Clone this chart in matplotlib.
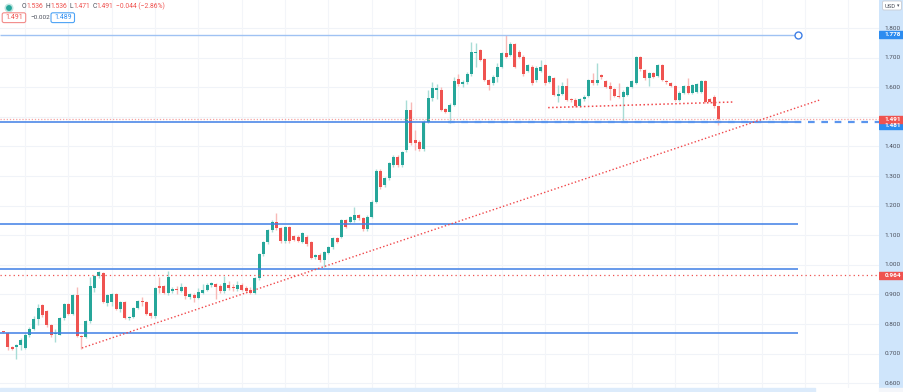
import matplotlib
matplotlib.use("Agg")
import matplotlib.pyplot as plt
from matplotlib.patches import Rectangle, Circle, FancyBboxPatch

# ---------------- data ----------------
opens = [0.775, 0.770, 0.722, 0.721, 0.730, 0.719, 0.762, 0.784, 0.818, 0.863,
         0.843, 0.798, 0.765, 0.764, 0.820, 0.869, 0.835, 0.897, 0.760, 0.756,
         0.809, 0.920, 0.962, 0.972, 0.872, 0.874, 0.901, 0.852, 0.874, 0.821,
         0.823, 0.854, 0.877, 0.874, 0.838, 0.826, 0.928, 0.928, 0.904, 0.913,
         0.916, 0.913, 0.924, 0.892, 0.898, 0.887, 0.906, 0.915, 0.932, 0.935,
         0.928, 0.913, 0.932, 0.926, 0.917, 0.931, 0.920, 0.915, 0.906, 0.954,
         1.036, 1.078, 1.118, 1.146, 1.123, 1.081, 1.127, 1.097, 1.095, 1.078,
         1.095, 1.078, 1.025, 1.033, 1.016, 1.041, 1.061, 1.089, 1.095, 1.151,
         1.146, 1.151, 1.168, 1.157, 1.120, 1.163, 1.213, 1.317, 1.270, 1.292,
         1.337, 1.365, 1.337, 1.388, 1.523, 1.422, 1.416, 1.390, 1.484, 1.562,
         1.591, 1.590, 1.526, 1.517, 1.540, 1.628, 1.610, 1.619, 1.643, 1.714,
         1.726, 1.695, 1.624, 1.613, 1.636, 1.669, 1.714, 1.709, 1.745, 1.720,
         1.703, 1.655, 1.669, 1.624, 1.655, 1.675, 1.619, 1.632, 1.571, 1.576,
         1.605, 1.560, 1.557, 1.538, 1.560, 1.570, 1.624, 1.613, 1.641, 1.621,
         1.604, 1.593, 1.570, 1.566, 1.574, 1.602, 1.615, 1.701, 1.658, 1.630,
         1.649, 1.638, 1.675, 1.620, 1.615, 1.604, 1.557, 1.580, 1.604, 1.580,
         1.585, 1.585, 1.622, 1.559, 1.568, 1.536]
highs = [0.778, 0.772, 0.727, 0.733, 0.752, 0.770, 0.790, 0.826, 0.866, 0.868,
         0.846, 0.800, 0.784, 0.824, 0.872, 0.872, 0.900, 0.925, 0.762, 0.812,
         0.960, 0.966, 0.978, 0.976, 0.900, 0.905, 0.905, 0.878, 0.878, 0.826,
         0.858, 0.882, 0.890, 0.877, 0.842, 0.925, 0.958, 0.932, 0.980, 0.925,
         0.930, 0.940, 0.930, 0.905, 0.905, 0.920, 0.935, 0.938, 0.942, 0.940,
         0.935, 0.962, 0.945, 0.935, 0.945, 0.940, 0.930, 0.925, 0.960, 1.040,
         1.082, 1.122, 1.151, 1.176, 1.128, 1.130, 1.130, 1.100, 1.100, 1.110,
         1.100, 1.082, 1.036, 1.040, 1.048, 1.065, 1.093, 1.095, 1.155, 1.156,
         1.165, 1.194, 1.172, 1.160, 1.168, 1.218, 1.322, 1.322, 1.298, 1.348,
         1.370, 1.370, 1.386, 1.557, 1.551, 1.455, 1.420, 1.489, 1.591, 1.619,
         1.610, 1.600, 1.530, 1.545, 1.636, 1.643, 1.625, 1.650, 1.754, 1.748,
         1.730, 1.698, 1.628, 1.640, 1.681, 1.720, 1.776, 1.752, 1.750, 1.725,
         1.708, 1.680, 1.674, 1.670, 1.692, 1.680, 1.642, 1.636, 1.607, 1.619,
         1.630, 1.565, 1.562, 1.565, 1.572, 1.628, 1.647, 1.683, 1.646, 1.625,
         1.619, 1.597, 1.613, 1.590, 1.604, 1.626, 1.705, 1.705, 1.662, 1.653,
         1.653, 1.680, 1.679, 1.624, 1.619, 1.608, 1.586, 1.608, 1.632, 1.611,
         1.614, 1.626, 1.626, 1.563, 1.572, 1.536]
lows = [0.770, 0.712, 0.712, 0.683, 0.712, 0.716, 0.756, 0.780, 0.796, 0.825,
        0.790, 0.755, 0.740, 0.762, 0.815, 0.830, 0.830, 0.755, 0.715, 0.752,
        0.805, 0.908, 0.955, 0.870, 0.860, 0.862, 0.848, 0.840, 0.818, 0.812,
        0.820, 0.850, 0.860, 0.830, 0.820, 0.820, 0.904, 0.900, 0.898, 0.905,
        0.900, 0.908, 0.885, 0.885, 0.875, 0.883, 0.900, 0.910, 0.925, 0.885,
        0.905, 0.905, 0.915, 0.912, 0.910, 0.910, 0.905, 0.900, 0.902, 0.950,
        1.030, 1.070, 1.110, 1.118, 1.075, 1.075, 1.075, 1.080, 1.078, 1.072,
        1.065, 1.018, 1.018, 1.010, 0.994, 1.035, 1.055, 1.072, 1.090, 1.125,
        1.140, 1.146, 1.150, 1.115, 1.115, 1.158, 1.208, 1.255, 1.262, 1.288,
        1.332, 1.332, 1.330, 1.382, 1.405, 1.388, 1.385, 1.385, 1.480, 1.555,
        1.560, 1.518, 1.512, 1.478, 1.535, 1.605, 1.600, 1.612, 1.638, 1.669,
        1.688, 1.620, 1.590, 1.608, 1.619, 1.665, 1.700, 1.705, 1.665, 1.698,
        1.638, 1.650, 1.608, 1.618, 1.650, 1.608, 1.614, 1.570, 1.551, 1.572,
        1.552, 1.550, 1.534, 1.534, 1.555, 1.566, 1.608, 1.608, 1.628, 1.598,
        1.557, 1.566, 1.562, 1.484, 1.570, 1.598, 1.610, 1.655, 1.625, 1.604,
        1.632, 1.634, 1.620, 1.612, 1.600, 1.553, 1.553, 1.576, 1.576, 1.576,
        1.581, 1.581, 1.547, 1.547, 1.530, 1.471]
closes = [0.772, 0.722, 0.716, 0.728, 0.745, 0.764, 0.784, 0.816, 0.854, 0.831,
          0.795, 0.762, 0.768, 0.820, 0.869, 0.835, 0.897, 0.760, 0.756, 0.809,
          0.928, 0.962, 0.976, 0.874, 0.897, 0.901, 0.852, 0.874, 0.821, 0.823,
          0.854, 0.878, 0.874, 0.833, 0.826, 0.921, 0.920, 0.904, 0.960, 0.918,
          0.914, 0.926, 0.895, 0.900, 0.889, 0.909, 0.915, 0.932, 0.937, 0.926,
          0.913, 0.937, 0.920, 0.920, 0.932, 0.915, 0.913, 0.906, 0.954, 1.036,
          1.078, 1.118, 1.146, 1.123, 1.081, 1.127, 1.081, 1.084, 1.082, 1.106,
          1.070, 1.022, 1.033, 1.016, 1.044, 1.061, 1.089, 1.078, 1.151, 1.129,
          1.160, 1.168, 1.157, 1.120, 1.163, 1.213, 1.317, 1.264, 1.292, 1.343,
          1.365, 1.337, 1.382, 1.523, 1.410, 1.413, 1.390, 1.484, 1.562, 1.596,
          1.596, 1.523, 1.517, 1.540, 1.621, 1.610, 1.619, 1.643, 1.718, 1.718,
          1.692, 1.624, 1.607, 1.636, 1.669, 1.714, 1.703, 1.745, 1.669, 1.703,
          1.643, 1.675, 1.613, 1.666, 1.669, 1.613, 1.638, 1.574, 1.576, 1.605,
          1.557, 1.557, 1.538, 1.560, 1.568, 1.624, 1.613, 1.624, 1.633, 1.602,
          1.593, 1.570, 1.566, 1.585, 1.600, 1.622, 1.701, 1.660, 1.630, 1.649,
          1.636, 1.675, 1.624, 1.617, 1.604, 1.557, 1.582, 1.604, 1.580, 1.607,
          1.610, 1.622, 1.551, 1.551, 1.535, 1.491]

price_ticks = [0.6, 0.7, 0.8, 0.9, 1.0, 1.1, 1.2, 1.3, 1.4, 1.5, 1.6, 1.7, 1.8]
blue_levels = [1.481, 1.137, 0.985, 0.770]
top_level = 1.778
support_level = 1.481
red_price_line = 1.491
red_level = 0.964
trend_x = [18.1, 188.4]
trend_y = [0.719, 1.557]
neck_x = [125.7, 168.4]
neck_y = [1.531, 1.550]
ray_end = 183.4
dash_start = 102.6
header_parts = [("O", "1.536"), ("H", "1.536"), ("L", "1.471"), ("C", "1.491"),
                ("", "\u22120.044 (\u22122.86%)")]

UP = "#26a69a"
DOWN = "#ef5350"
UP_W = "#a8dcd6"
DOWN_W = "#f8b9b7"
BLUE = "#3f7fe6"
GREY = "#4a4e5a"

W, H = 904, 392
fig = plt.figure(figsize=(W / 100, H / 100), dpi=100)
fig.patch.set_facecolor("white")

plot_right = 879
plot_bottom = 388
ax = fig.add_axes([0, 1 - plot_bottom / H, plot_right / W, plot_bottom / H])
ax.set_facecolor("white")

x0, dx = 3.5, 4.333
ax.set_xlim((0 - x0) / dx, (plot_right - x0) / dx)
ax.set_ylim(1.8 - (plot_bottom - 28) / 296, 1.8 + 28 / 296)
for s in ax.spines.values():
    s.set_visible(False)
ax.set_xticks([])
ax.set_yticks([])

# grid
for p in price_ticks:
    ax.axhline(p, color="#f0f3f8", lw=0.8, zorder=0)
for gi in range(5, 205, 10):
    ax.axvline(gi, color="#f3f5f9", lw=0.8, zorder=0)

n = len(closes)
for i in range(n):
    o, h, l, c = opens[i], highs[i], lows[i], closes[i]
    up = c >= o
    ax.vlines(i, l, h, color=UP_W if up else DOWN_W, lw=1.0, zorder=2)
    bot = min(o, c)
    ht = max(abs(c - o), 0.003)
    ax.bar(i, ht, bottom=bot, width=0.72, color=UP if up else DOWN,
           edgecolor="none", zorder=3)

# horizontal levels
xl = ax.get_xlim()
ax.hlines(top_level, xl[0], ray_end, color="#9fc2f3", lw=1.0, zorder=4)
ax.plot([ray_end], [top_level], marker="o", ms=5, mfc="white", mec=BLUE, mew=1.0, zorder=6)
for lv in blue_levels:
    ax.hlines(lv, xl[0], ray_end, color=BLUE, lw=1.1, zorder=4)
ax.hlines(support_level, dash_start, xl[1], color="#5a95ee", lw=1.6,
          linestyles=(0, (3, 3)), zorder=5)
ax.axhline(red_price_line, color="#f5a3a1", lw=0.9, ls=(0, (1, 1.5)), zorder=4)
ax.axhline(red_level, color="#ef5350", lw=0.9, ls=(0, (1, 2.5)), zorder=4)
ax.plot(trend_x, trend_y, color="#f0474a", lw=1.0, ls=(0, (1, 1.6)), zorder=5)
ax.plot(neck_x, neck_y, color="#f0474a", lw=1.1, ls=(0, (1, 1.6)), zorder=5)

# price scale panel
pax = fig.add_axes([plot_right / W, 1 - plot_bottom / H, (W - plot_right) / W, plot_bottom / H])
pax.set_facecolor("#cfe5fb")
pax.set_xlim(0, 1)
pax.set_ylim(ax.get_ylim())
for s in pax.spines.values():
    s.set_visible(False)
pax.set_xticks([])
pax.set_yticks([])
tag_levels = [top_level, 1.4705, red_price_line, red_level]
for p in price_ticks:
    # labels hidden behind the coloured price tags are not drawn (as in the reference)
    if any(abs(p - t) < 0.02 for t in tag_levels):
        continue
    pax.text(0.22, p, f"{p:.3f}", fontsize=4.6, color=GREY, va="center",
             ha="left", family="Roboto")

def tag(y, text, color):
    pax.add_patch(Rectangle((0.0, y - 0.0112), 1.0, 0.0224, color=color, zorder=5))
    pax.text(0.22, y, text, fontsize=4.6, color="white", va="center", ha="left",
             family="Roboto", zorder=6, fontweight="bold")

tag(top_level, "1.778", "#2c8cf0")
tag(1.4705, "1.481", "#2c8cf0")
tag(red_price_line, "1.491", "#ef5350")
tag(red_level, "0.964", "#ef5350")

# overlay in pixel coordinates for the header and extras
ov = fig.add_axes([0, 0, 1, 1])
ov.set_xlim(0, W)
ov.set_ylim(H, 0)
ov.axis("off")
ov.patch.set_alpha(0)

ov.add_patch(Rectangle((0, plot_bottom), 815, H - plot_bottom, color="#dcebfb", zorder=1))
ov.add_patch(Rectangle((plot_right, plot_bottom), W - plot_right, H - plot_bottom,
                       color="#f4f6fa", zorder=1))

# USD button
ov.add_patch(FancyBboxPatch((882.5, 1.0), 19, 9, boxstyle="round,pad=0,rounding_size=1.5",
                            fc="white", ec="#c9ccd3", lw=0.6, zorder=3))
ov.text(884.5, 6, "USD", fontsize=4.2, color=GREY, va="center", ha="left",
        family="Roboto", zorder=4)
ov.text(898.5, 6, "\u25be", fontsize=3.5, color=GREY, va="center", ha="center", zorder=4)

# legend dot
ov.add_patch(Circle((9, 8), 3.8, color="#bfe6e1", zorder=3))
ov.add_patch(Circle((9, 8), 2.2, color="#26a69a", zorder=4))

# header: laid out piece by piece using measured text widths
renderer = fig.canvas.get_renderer()
xcur = 22.0
for letter, val in header_parts:
    for txt, col in ((letter, GREY), (val, DOWN)):
        if not txt:
            continue
        t = ov.text(xcur, 6.2, txt, fontsize=4.85, color=col, va="center", ha="left",
                    family="Roboto")
        bb = t.get_window_extent(renderer=renderer)
        xcur += bb.width
    xcur += 2.4

ov.add_patch(FancyBboxPatch((2.2, 12.8), 23.5, 9.8, boxstyle="round,pad=0,rounding_size=1.8",
                            fc="white", ec="#f28b89", lw=0.8, zorder=3))
ov.text(14, 17.8, "1.491", fontsize=5.0, color=DOWN, va="center", ha="center",
        family="Roboto", zorder=4)
ov.text(30.0, 17.8, "\u22120.002", fontsize=4.6, color=GREY, va="center", ha="left",
        family="Roboto")
ov.add_patch(FancyBboxPatch((51, 12.8), 23.5, 9.8, boxstyle="round,pad=0,rounding_size=1.8",
                            fc="white", ec="#4da3f5", lw=0.8, zorder=3))
ov.text(62.8, 17.8, "1.489", fontsize=5.0, color="#2c8cf0", va="center", ha="center",
        family="Roboto", zorder=4)

fig.savefig("out.png", dpi=100, facecolor="white")
